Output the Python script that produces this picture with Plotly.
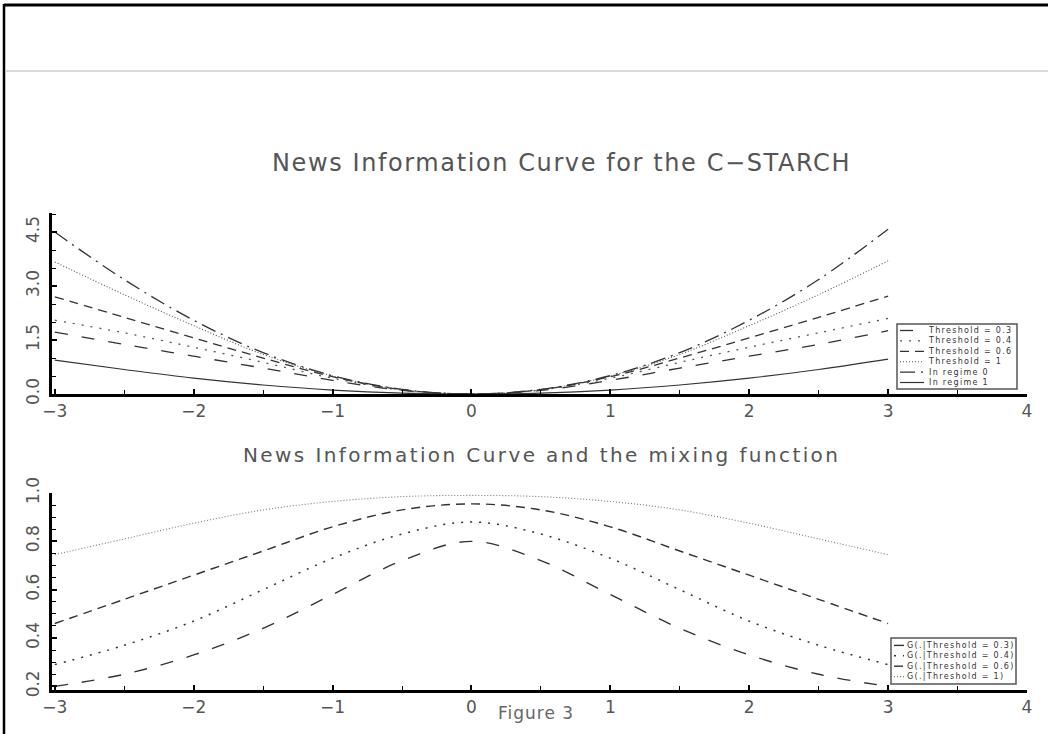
import plotly.graph_objects as go

W, H = 1048, 734


def px(x):
    return x / W


def py(y):
    return 1 - y / H


# ---------------- data ----------------
x_grid = [-3, -2.5, -2, -1.5, -1, -0.5, 0, 0.5, 1, 1.5, 2, 2.5, 3]

# top panel: news information curves
nic_th03 = [1.72, 1.38, 1.05, 0.72, 0.38, 0.10, 0.0, 0.10, 0.38, 0.72, 1.05, 1.38, 1.76]
nic_th04 = [2.05, 1.70, 1.30, 0.88, 0.44, 0.11, 0.0, 0.11, 0.44, 0.88, 1.30, 1.70, 2.10]
nic_th06 = [2.70, 2.13, 1.56, 1.00, 0.48, 0.12, 0.0, 0.12, 0.48, 1.00, 1.56, 2.13, 2.72]
nic_th1 = [3.67, 2.76, 1.90, 1.10, 0.50, 0.12, 0.0, 0.12, 0.50, 1.10, 1.90, 2.76, 3.70]
nic_reg0 = [4.50, 3.18, 2.05, 1.15, 0.51, 0.13, 0.0, 0.13, 0.51, 1.15, 2.05, 3.18, 4.58]
nic_reg1 = [0.94, 0.68, 0.44, 0.25, 0.11, 0.027, 0.0, 0.027, 0.11, 0.25, 0.44, 0.68, 0.97]

# bottom panel: mixing function G
g_th03 = [0.20, 0.25, 0.33, 0.44, 0.58, 0.72, 0.80, 0.72, 0.58, 0.44, 0.33, 0.25, 0.20]
g_th04 = [0.29, 0.37, 0.47, 0.60, 0.73, 0.83, 0.88, 0.83, 0.73, 0.60, 0.47, 0.37, 0.29]
g_th06 = [0.46, 0.56, 0.66, 0.76, 0.86, 0.93, 0.955, 0.93, 0.86, 0.76, 0.66, 0.56, 0.46]
g_th1 = [0.745, 0.81, 0.875, 0.93, 0.965, 0.985, 0.99, 0.985, 0.965, 0.93, 0.875, 0.81, 0.745]

top_labels = ["Threshold = 0.3", "Threshold = 0.4", "Threshold = 0.6",
              "Threshold = 1", "In regime 0", "In regime 1"]
bottom_labels = ["G(.|Threshold = 0.3)", "G(.|Threshold = 0.4)",
                 "G(.|Threshold = 0.6)", "G(.|Threshold = 1)"]

title_top = "News Information Curve for the C\u2212STARCH"
title_bottom = "News Information Curve and the mixing function"
caption = "Figure 3"

# ---------------- styles ----------------
DASH_LONG = "13px,14px"
DASH_SPARSE_DOT = "2px,7px"
DASH_DASH = "9px,6px"
DASH_FINE_DOT = "1px,2px"
DASH_DASHDOT = "15px,6px,2px,6px"

top_styles = [
    dict(dash=DASH_LONG, color="#333333", width=1.3),
    dict(dash=DASH_SPARSE_DOT, color="#555555", width=1.3),
    dict(dash=DASH_DASH, color="#333333", width=1.3),
    dict(dash=DASH_FINE_DOT, color="#555555", width=1.1),
    dict(dash=DASH_DASHDOT, color="#333333", width=1.3),
    dict(dash="solid", color="#333333", width=1.2),
]
bottom_styles = [
    dict(dash=DASH_LONG, color="#333333", width=1.4),
    dict(dash=DASH_SPARSE_DOT, color="#333333", width=1.5),
    dict(dash=DASH_DASH, color="#333333", width=1.4),
    dict(dash=DASH_FINE_DOT, color="#777777", width=1.1),
]

fig = go.Figure()

top_series = [nic_th03, nic_th04, nic_th06, nic_th1, nic_reg0, nic_reg1]
for name, ys, st in zip(top_labels, top_series, top_styles):
    fig.add_trace(go.Scatter(x=x_grid, y=ys, mode="lines", name=name,
                             line=dict(shape="spline", smoothing=1.0, **st),
                             xaxis="x", yaxis="y", showlegend=False))

bottom_series = [g_th03, g_th04, g_th06, g_th1]
for name, ys, st in zip(bottom_labels, bottom_series, bottom_styles):
    fig.add_trace(go.Scatter(x=x_grid, y=ys, mode="lines", name=name,
                             line=dict(shape="spline", smoothing=1.0, **st),
                             xaxis="x2", yaxis="y2", showlegend=False))

tickfont = dict(family="DejaVu Sans", size=17, color="#555555")
x_common = dict(
    range=[-3.02, 4], dtick=1, tick0=0, showline=True, linecolor="black",
    linewidth=3, ticks="inside", ticklen=5, tickwidth=1.5, tickcolor="black",
    minor=dict(dtick=0.5, ticks="inside", ticklen=4, tickwidth=1.2, tickcolor="black"),
    showgrid=False, zeroline=False, tickfont=tickfont, domain=[px(52), px(1027)],
    automargin=False,
)
y_common = dict(
    showline=True, linecolor="black", linewidth=2.5, ticks="inside", ticklen=5,
    tickwidth=1.5, tickcolor="black", showgrid=False, zeroline=False,
    tickfont=tickfont, tickangle=-90, tickformat=".1f", ticklabelstandoff=3,
    automargin=False,
)

fig.update_layout(
    template="none",
    width=W, height=H, autosize=False, margin=dict(l=0, r=0, t=0, b=0, pad=0),
    paper_bgcolor="white", plot_bgcolor="white", showlegend=False,
    xaxis=dict(anchor="y", **x_common),
    yaxis=dict(anchor="x", domain=[py(394), py(213)], range=[0, 5.03], dtick=1.5,
               minor=dict(dtick=0.5, ticks="inside", ticklen=4, tickwidth=1.2,
                          tickcolor="black"), **y_common),
    xaxis2=dict(anchor="y2", **x_common),
    yaxis2=dict(anchor="x2", domain=[py(690), py(493)], range=[0.185, 1.0], dtick=0.2,
                tick0=0, minor=dict(dtick=0.05, ticks="inside", ticklen=4,
                                    tickwidth=1.2, tickcolor="black"), **y_common),
)


def spaced(text, sp):
    return '<span style="letter-spacing:%spx">%s</span>' % (sp, text)


# titles
fig.add_annotation(text=spaced(title_top, 1.6), x=px(561), y=py(163), xref="paper",
                   yref="paper", xanchor="center", yanchor="middle", showarrow=False,
                   font=dict(family="DejaVu Sans", size=24, color="#555555"))
fig.add_annotation(text=spaced(title_bottom, 2.4), x=px(541), y=py(455), xref="paper",
                   yref="paper", xanchor="center", yanchor="middle", showarrow=False,
                   font=dict(family="DejaVu Sans", size=20, color="#555555"))
fig.add_annotation(text=spaced(caption, 1.0), x=px(536), y=py(713), xref="paper",
                   yref="paper", xanchor="center", yanchor="middle", showarrow=False,
                   font=dict(family="DejaVu Sans", size=17, color="#666666"))

# frame of the page
shapes = [
    dict(type="line", xref="paper", yref="paper", x0=px(4), x1=px(4), y0=py(4), y1=py(734),
         line=dict(color="black", width=2.5)),
    dict(type="line", xref="paper", yref="paper", x0=px(4), x1=1, y0=py(5), y1=py(5),
         line=dict(color="black", width=3)),
    dict(type="line", xref="paper", yref="paper", x0=px(5), x1=1, y0=py(71), y1=py(71),
         line=dict(color="#cccccc", width=1.5)),
]

LEG_FONT = 8
LINE_H = LEG_FONT * 1.3


def draw_legend(box, sample_x, text_x, labels, styles):
    x0, x1, y0, y1 = box
    shapes.append(dict(type="rect", xref="paper", yref="paper", x0=px(x0), x1=px(x1),
                       y0=py(y1), y1=py(y0), line=dict(color="#555555", width=1.5),
                       fillcolor="white", layer="above"))
    n = len(labels)
    block_h = n * LINE_H
    top = (y0 + y1) / 2 - block_h / 2
    for i, st in enumerate(styles):
        yy = top + (i + 0.5) * LINE_H
        shapes.append(dict(type="line", xref="paper", yref="paper", x0=px(sample_x[0]),
                           x1=px(sample_x[1]), y0=py(yy), y1=py(yy), layer="above",
                           line=dict(color=st["color"], width=st["width"], dash=st["dash"])))
    text = "<br>".join(spaced(lab, 1.3) for lab in labels)
    fig.add_annotation(text=text, x=px(text_x), y=py((y0 + y1) / 2), xref="paper",
                       yref="paper", xanchor="left", yanchor="middle", align="left",
                       showarrow=False, borderpad=0,
                       font=dict(family="DejaVu Sans", size=LEG_FONT, color="#333333"))


draw_legend((897, 1017, 324, 389), (900, 924), 927, top_labels, top_styles)
draw_legend((891, 1016, 638, 684), (894, 904), 906, bottom_labels, bottom_styles)

fig.update_layout(shapes=shapes)
fig.write_html("out.html", config={"displayModeBar": False},
               post_script="document.body.style.margin='0';")
